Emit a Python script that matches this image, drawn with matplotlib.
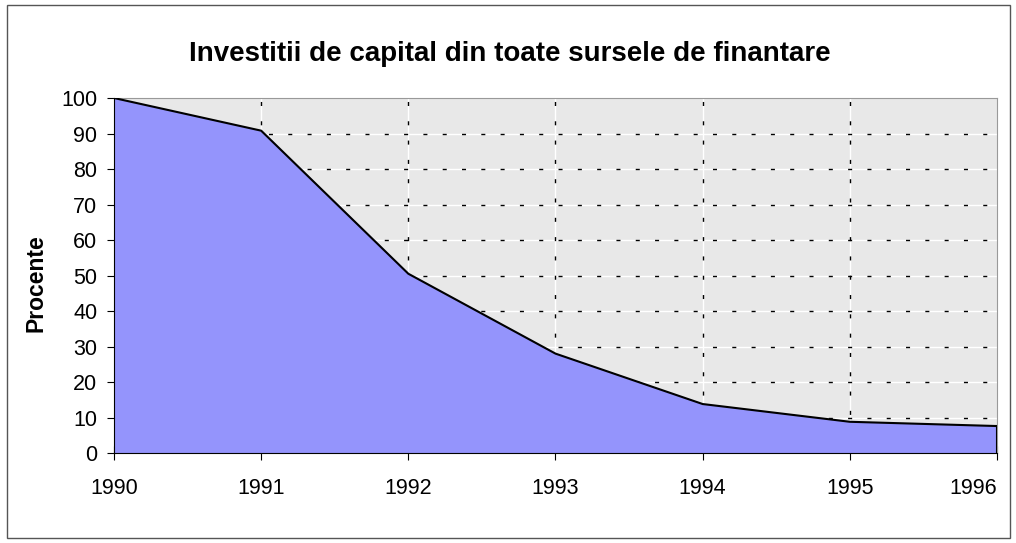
import numpy as np
import matplotlib.pyplot as plt
from matplotlib.patches import Rectangle

years = [1990, 1991, 1992, 1993, 1994, 1995, 1996]
procente = [100, 90.8, 50.5, 28.0, 13.8, 8.8, 7.6]

plt.rcParams['font.family'] = ['Liberation Sans', 'DejaVu Sans']

fig = plt.figure(figsize=(10.16, 5.43), dpi=100)
fig.patches.append(Rectangle((0.007, 0.01), 0.987, 0.98, transform=fig.transFigure,
                             fill=False, edgecolor='#555555', linewidth=1))
ax = fig.add_axes([0.1122, 0.1657, 0.8691, 0.6538])
ax.set_facecolor('#e8e8e8')

x = np.arange(len(years))
ax.fill_between(x, procente, 0, color='#9494fc', zorder=2)
ax.plot(x, procente, color='black', linewidth=1.5, zorder=3)
ax.plot([x[-1], x[-1]], [0, procente[-1]], color='black', linewidth=1.5, zorder=3)

ax.set_xlim(0, len(years) - 1)
ax.set_ylim(0, 100)
ax.set_xticks(x)
ax.set_xticklabels([str(y) for y in years])
ax.set_yticks(range(0, 101, 10))

# gridlines: white line with black dashes on top
for v in range(10, 100, 10):
    ax.axhline(v, color='white', linewidth=1, zorder=1)
    ax.axhline(v, color='black', linewidth=1, linestyle=(0, (2.9, 11)), zorder=1.1)
for xi in x[1:-1]:
    ax.axvline(xi, color='white', linewidth=1, zorder=1)
    ax.axvline(xi, color='black', linewidth=1, linestyle=(0, (2.9, 11)), zorder=1.1)

for s in ['top', 'right']:
    ax.spines[s].set_color('#999999')
ax.spines['left'].set_color('black')
ax.spines['bottom'].set_color('black')
ax.spines['left'].set_zorder(4)
ax.spines['bottom'].set_zorder(4)

ax.tick_params(axis='y', direction='out', length=5, labelsize=15.5, pad=7)
ax.tick_params(axis='x', direction='inout', length=10, labelsize=15.5, pad=13)
ax.get_xticklabels()[-1].set_ha('right')

fig.text(36.5 / 1016, 1 - 283 / 543, 'Procente', rotation=90, fontsize=16.5,
         fontweight='bold', ha='center', va='center')
fig.text(510 / 1016, 1 - 61 / 543, 'Investitii de capital din toate sursele de finantare',
         fontsize=20, fontweight='bold', ha='center', va='baseline')

plt.savefig('out.png', dpi=100)
